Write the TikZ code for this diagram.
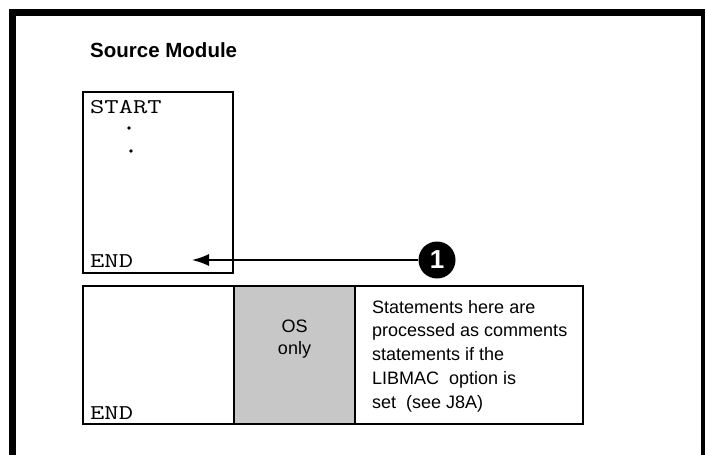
\documentclass[tikz,border=0pt]{standalone}
\usepackage{fontspec}
\setmainfont{Liberation Sans}
\usetikzlibrary{arrows.meta}
\definecolor{stipple}{gray}{0.78}
\begin{document}
\begin{tikzpicture}[x=1pt,y=-1pt,
  box/.style={draw, line width=2.4pt, inner sep=0pt, outer sep=0pt},
  mono/.style={font=\fontsize{21}{24}\ttfamily, inner sep=0pt, anchor=base west},
  sans/.style={font=\fontsize{18}{23.75}\selectfont, inner sep=0pt},
]
\useasboundingbox (0,0) rectangle (707,455);
% outer frame (open at bottom)
\fill (8.5,9) rectangle (16,455);
\fill (8.5,9) rectangle (705,16);
\fill (701,9) rectangle (705,455);
% title
\node[anchor=base west, font=\fontsize{20.5}{24}\bfseries, inner sep=0pt] (title) at (90,57) {Source Module};
% upper source box
\node[box, minimum width=150pt, minimum height=181pt] (src) at (158,182.5) {};
\node[mono] (start) at (90,113) {\scalebox{1.32}[1]{START}};
\fill (129,128) circle (1.8);
\fill (131,151) circle (1.8);
\node[mono] (endA) at (90,267) {\scalebox{1.32}[1]{END}};
% lower boxes
\node[box, fill=stipple, minimum width=121pt, minimum height=138pt] (os) at (294.5,355) {};
\node[box, minimum width=151pt, minimum height=138pt] (left) at (158.5,355) {};
\node[box, minimum width=228pt, minimum height=138pt] (note) at (469,355) {};
\node[mono] (endB) at (90,419) {\scalebox{1.32}[1]{END}};
\node[sans, anchor=base] (ostext) at (294.5,332) {OS};
\node[sans, anchor=base] (onlytext) at (294.5,354) {only};
\node[sans, anchor=base west, align=left] (notetext) at (372,408) {Statements here are\\processed as comments\\statements if the\\LIBMAC\ \ option is\\set\ \ (see J8A)};
% callout
\node[circle, fill=black, minimum size=37pt, inner sep=0pt, text=white, font=\fontsize{26}{26}\bfseries] (one) at (437,260) {1};
\coordinate (tip) at (192,260);
\draw[line width=1.5pt, -{Latex[length=17pt,width=12pt]}] (one) -- (tip);
\end{tikzpicture}
\end{document}
